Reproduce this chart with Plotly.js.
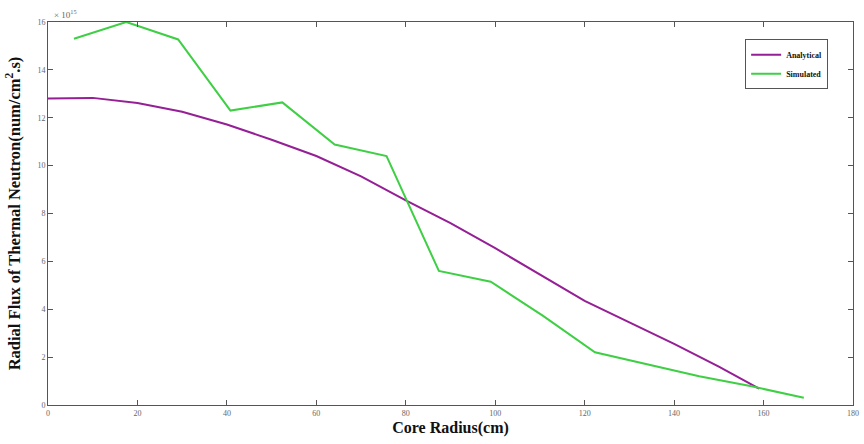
<!DOCTYPE html>
<html>
<head>
<meta charset="utf-8">
<script src="https://cdn.plot.ly/plotly-3.0.1.min.js"></script>
<style>html,body{margin:0;padding:0;background:#fff;}#chart{width:864px;height:444px;}</style>
</head>
<body>
<div id="chart"></div>
<script>
// Analytical flux (units of 1e15)
const analyticalX = [0, 10, 20, 30, 40, 50, 60, 70, 80, 90, 100, 110, 120, 130, 140, 150, 159];
const analyticalY = [12.8, 12.83, 12.62, 12.25, 11.72, 11.08, 10.4, 9.55, 8.55, 7.6, 6.55, 5.45, 4.35, 3.45, 2.55, 1.6, 0.68];
// Simulated flux (units of 1e15)
const simulatedX = [5.8, 17.5, 29.1, 40.8, 52.4, 64.1, 75.7, 87.4, 99, 110.7, 122.3, 134, 145.6, 157.3, 169];
const simulatedY = [15.3, 16.0, 15.27, 12.3, 12.64, 10.88, 10.4, 5.6, 5.15, 3.72, 2.2, 1.7, 1.2, 0.78, 0.3];
const xTicks = [0, 20, 40, 60, 80, 100, 120, 140, 160, 180];
const yTicks = [0, 2, 4, 6, 8, 10, 12, 14, 16];

const traces = [
  {x: analyticalX, y: analyticalY, type: 'scatter', mode: 'lines', name: 'Analytical',
   line: {color: '#951f95', width: 2}},
  {x: simulatedX, y: simulatedY, type: 'scatter', mode: 'lines', name: 'Simulated',
   line: {color: '#3fcf45', width: 2}}
];

const axisCommon = {
  showgrid: false, zeroline: false, showline: true, mirror: 'ticks',
  linecolor: '#555', linewidth: 1, ticks: 'inside', ticklen: 5, tickcolor: '#555',
  tickfont: {family: 'Liberation Serif, serif', size: 8, color: '#666'}
};

const layout = {
  width: 864, height: 444,
  margin: {l: 48, r: 11, t: 22, b: 39},
  paper_bgcolor: '#fff', plot_bgcolor: '#fff',
  showlegend: true,
  legend: {x: 0.866, y: 0.955, xanchor: 'left', yanchor: 'top',
    bgcolor: '#fff', bordercolor: '#555', borderwidth: 1,
    font: {family: 'Liberation Serif, serif', size: 8, color: '#111', weight: 'bold'},
    tracegroupgap: 0, itemwidth: 30},
  xaxis: Object.assign({}, axisCommon, {
    range: [0, 180], tickvals: xTicks, ticktext: xTicks.map(String),
    title: {text: 'Core Radius(cm)', standoff: 5,
      font: {family: 'Liberation Serif, serif', size: 16, color: '#111', weight: 'bold'}}
  }),
  yaxis: Object.assign({}, axisCommon, {
    range: [0, 16], tickvals: yTicks, ticktext: yTicks.map(String),
    title: {text: 'Radial Flux of Thermal Neutron(num/cm<sup>2</sup>.s)', standoff: 12,
      font: {family: 'Liberation Serif, serif', size: 16.5, color: '#111', weight: 'bold'}}
  }),
  annotations: [{
    xref: 'paper', yref: 'paper', x: 0.005, y: 1, xanchor: 'left', yanchor: 'bottom',
    text: '\u00d7 10<sup>15</sup>', showarrow: false,
    font: {family: 'Liberation Serif, serif', size: 9, color: '#666'}
  }]
};

Plotly.newPlot('chart', traces, layout, {displayModeBar: false, staticPlot: true});
</script>
</body>
</html>
